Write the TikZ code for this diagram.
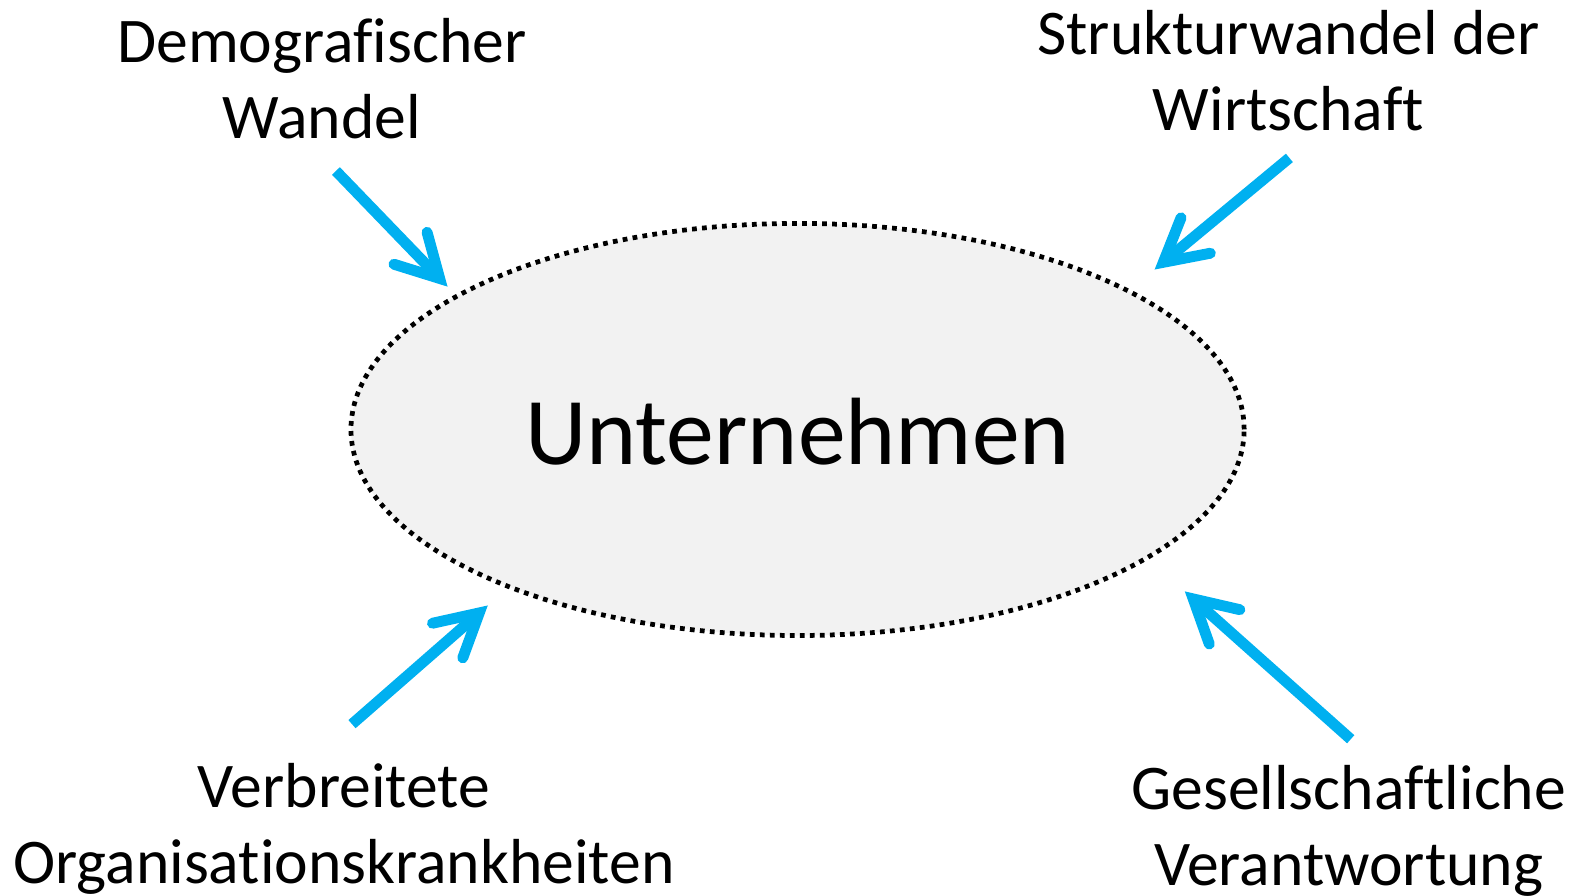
\documentclass[tikz,border=0pt]{standalone}
\usepackage{fontspec}
\setmainfont{Carlito}[Ligatures={NoCommon}]
\usetikzlibrary{arrows.meta,shapes.geometric}

\definecolor{pfeilblau}{HTML}{00B0F0}
\definecolor{kernfuellung}{HTML}{F2F2F2}

\tikzset{
	einfluss/.style={font=\fontsize{18.1}{21.6}\selectfont, align=center, inner sep=0pt},
	pfeil/.style={draw=pfeilblau, line width=3.1pt,
		-{Straight Barb[length=0.42cm, width=0.46cm, line cap=round, line join=miter]}},
	kern/.style={ellipse, draw=black, fill=kernfuellung, line width=1.35pt,
		dash pattern=on 1.35pt off 1.5pt, minimum width=8.93cm, minimum height=4.12cm,
		inner sep=0pt}
}

\begin{document}
\begin{tikzpicture}[x=0.010057cm, y=-0.010057cm]

	% ---- canvas

	\useasboundingbox (0,0) rectangle (1568,890);

	% ---- centre

	\node[kern] (unternehmen) at (793,427) {};
	\node[inner sep=0pt, font=\fontsize{27.2}{32}\selectfont] (titel) at (793,429.5) {Unternehmen};

	% ---- influences

	\node[einfluss] (demo)   at (320,78.5)   {Demografischer\\Wandel};
	\node[einfluss] (struk)  at (1281,70.5)  {Strukturwandel der\\Wirtschaft};
	\node[einfluss] (krank)  at (342,823.7)  {Verbreitete\\Organisationskrankheiten};
	\node[einfluss] (verant) at (1341,825.7) {Gesellschaftliche\\Verantwortung};

	% ---- arrow ends

	\coordinate (d1) at (334,170);   \coordinate (d2) at (445,285);
	\coordinate (s1) at (1282,157);  \coordinate (s2) at (1148,268);
	\coordinate (k1) at (350,720);   \coordinate (k2) at (485,602);
	\coordinate (v1) at (1343,735);  \coordinate (v2) at (1178,588);

	% ---- arrows

	\foreach \a in {d,s,k,v} { \draw[pfeil] (\a1) -- (\a2); }

\end{tikzpicture}
\end{document}
